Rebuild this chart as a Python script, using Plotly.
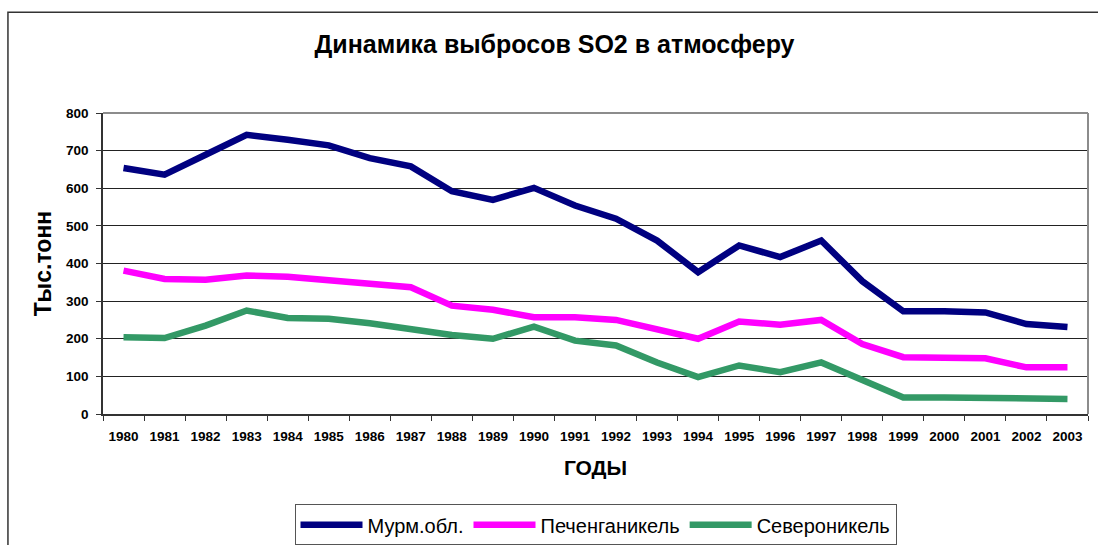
import plotly.graph_objects as go

years = [str(y) for y in range(1980, 2004)]
murm = [654, 636, 689, 742, 729, 714, 680, 658, 592, 569, 601, 554, 519, 461,
        377, 448, 417, 461, 353, 273, 273, 270, 239, 231]
pechenga = [381, 359, 357, 368, 365, 355, 343, 337, 288, 277, 257, 257, 250, 226,
            200, 246, 237, 250, 186, 151, 151, 148, 124, 124]
severo = [204, 202, 235, 275, 255, 253, 241, 224, 210, 200, 232, 195, 182, 137,
          98, 129, 111, 137, 89, 44, 44, 43, 43, 40]
series_names = ["Мурм.обл.", "Печенганикель", "Североникель"]
series_colors = ["#000080", "#FF00FF", "#339966"]

title_text = "Динамика выбросов SO2 в атмосферу"
x_title = "ГОДЫ"
y_title = "Тыс.тонн"

FONT = "Liberation Sans, Arial, sans-serif"

fig = go.Figure()
for name, vals, col in zip(series_names, [murm, pechenga, severo], series_colors):
    fig.add_trace(go.Scatter(x=years, y=vals, name=name, mode="lines",
                             line=dict(color=col, width=6.5)))

fig.update_layout(
    width=1098, height=545,
    margin=dict(l=103, r=10, t=113, b=131, autoexpand=False),
    paper_bgcolor="white", plot_bgcolor="white",
    font=dict(family=FONT, color="black"),
    title=dict(text="<b>" + title_text + "</b>", x=0.505, xanchor="center",
               y=0.918, yanchor="middle",
               font=dict(size=25, family=FONT, color="black")),
    showlegend=True,
    legend=dict(orientation="h", x=0.5, xanchor="center", y=-0.30, yanchor="top",
                bordercolor="#555555", borderwidth=1, bgcolor="white",
                font=dict(size=20, family=FONT, color="black"),
                itemwidth=62, tracegroupgap=0),
)

fig.update_xaxes(
    type="category", range=[-0.5, 23.5], tickson="boundaries", ticks="outside", ticklen=5,
    tickcolor="#333333", showline=True, linecolor="#333333", linewidth=1.5,
    showgrid=False, tickfont=dict(size=13.5, family=FONT, color="black"),
    tickprefix="<b>", ticksuffix="</b>", ticklabelstandoff=9, automargin=False,
    title=dict(text="<b>" + x_title + "</b>", font=dict(size=21, family=FONT, color="black"),
               standoff=17),
)
fig.update_yaxes(
    range=[0, 800], dtick=100, ticks="outside", ticklen=5, tickcolor="#333333",
    showline=True, linecolor="#333333", linewidth=1.5,
    showgrid=True, gridcolor="#222222", gridwidth=1, zeroline=False,
    tickfont=dict(size=13.5, family=FONT, color="black"),
    tickprefix="<b>", ticksuffix="</b>", ticklabelstandoff=5, automargin=False,
    title=dict(text="<b>" + y_title + "</b>", font=dict(size=23, family=FONT, color="black"),
               standoff=8),
)

# plot-area border (top and right, grey) and the outer chart frame
fig.add_shape(type="line", xref="paper", yref="paper", x0=0, x1=1, y0=1, y1=1,
              line=dict(color="#8c8c8c", width=2))
fig.add_shape(type="line", xref="paper", yref="paper", x0=1, x1=1, y0=0, y1=1,
              line=dict(color="#8c8c8c", width=2))
fig.add_shape(type="rect", xref="paper", yref="paper",
              x0=-0.0965, x1=1.05, y0=-0.6, y1=1.335,
              line=dict(color="#333333", width=1.5), layer="below")

fig.write_html("out.html", config={"displayModeBar": False},
               post_script="document.body.style.margin='0';document.body.style.overflow='hidden';")
